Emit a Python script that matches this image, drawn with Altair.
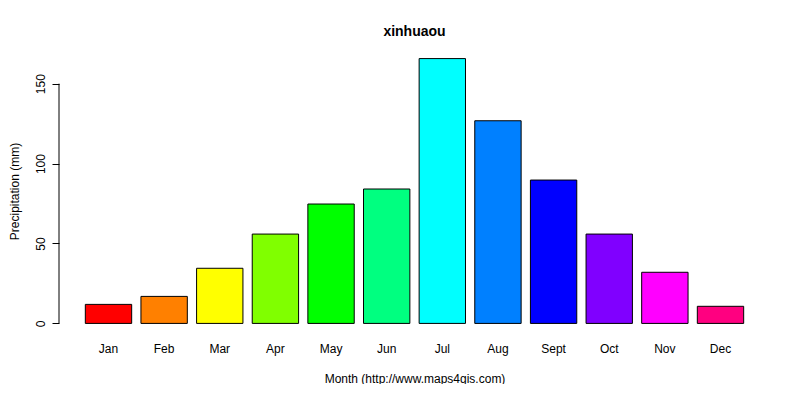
import altair as alt
import pandas as pd

months = ["Jan", "Feb", "Mar", "Apr", "May", "Jun", "Jul", "Aug", "Sept", "Oct", "Nov", "Dec"]
precip = [11.9, 16.9, 34.5, 55.9, 74.7, 84.1, 165.7, 126.8, 89.7, 55.9, 32.0, 10.7]
colors = ["#FF0000", "#FF8000", "#FFFF00", "#80FF00", "#00FF00", "#00FF80",
          "#00FFFF", "#0080FF", "#0000FF", "#8000FF", "#FF00FF", "#FF0080"]
y_ticks = [0, 50, 100, 150]

df = pd.DataFrame({"month": months, "precip": precip, "color": colors})

ymax = max(precip)
ydom = [-0.04 * ymax, 1.04 * ymax]

W, H = 711, 286
FONT = "Liberation Sans"

bars = alt.Chart(df).mark_bar(stroke="black", strokeWidth=1).encode(
    x=alt.X(
        "month:N",
        sort=months,
        scale=alt.Scale(paddingInner=0.1667, paddingOuter=0.473),
        axis=alt.Axis(
            title="Month (http://www.maps4gis.com)",
            labelAngle=0,
            ticks=False,
            domain=False,
            labelPadding=9,
            labelFont=FONT,
            labelFontSize=12,
            labelColor="black",
            titleFont=FONT,
            titleFontSize=12,
            titleFontWeight="normal",
            titleColor="black",
            titleY=44,
            titleBaseline="middle",
        ),
    ),
    y=alt.Y(
        "precip:Q",
        scale=alt.Scale(domain=ydom, nice=False, zero=False),
        axis=alt.Axis(
            title="Precipitation (mm)",
            values=y_ticks,
            domain=False,
            grid=False,
            tickSize=7,
            tickColor="black",
            labelAngle=270,
            labelAlign="center",
            labelBaseline="bottom",
            labelPadding=5,
            labelFont=FONT,
            labelFontSize=12,
            labelColor="black",
            titleFont=FONT,
            titleFontSize=12,
            titleFontWeight="normal",
            titleColor="black",
            titleAngle=270,
            titleAlign="center",
            titleBaseline="middle",
            titleX=-45,
            titleY=H / 2,
        ),
    ),
    y2=alt.datum(0),
    color=alt.Color("color:N", scale=None, legend=None),
)

axis_line = alt.Chart(pd.DataFrame({"a": [y_ticks[0]], "b": [y_ticks[-1]]})).mark_rule(
    color="black", strokeWidth=1
).encode(
    x=alt.value(0),
    y=alt.Y("a:Q", scale=alt.Scale(domain=ydom, nice=False, zero=False)),
    y2="b:Q",
)

chart = alt.layer(bars, axis_line).properties(
    width=W,
    height=H,
    background="white",
    title=alt.TitleParams(
        "xinhuaou",
        anchor="middle",
        font=FONT,
        fontSize=14,
        fontWeight="bold",
        color="black",
        baseline="middle",
        offset=2,
    ),
    padding={"left": 51, "top": 40, "right": 22, "bottom": 50},
    autosize=alt.AutoSizeParams(type="none"),
).configure_view(strokeWidth=0, stroke="transparent")

chart.save("out.html", embed_options={"renderer": "svg", "actions": False})
